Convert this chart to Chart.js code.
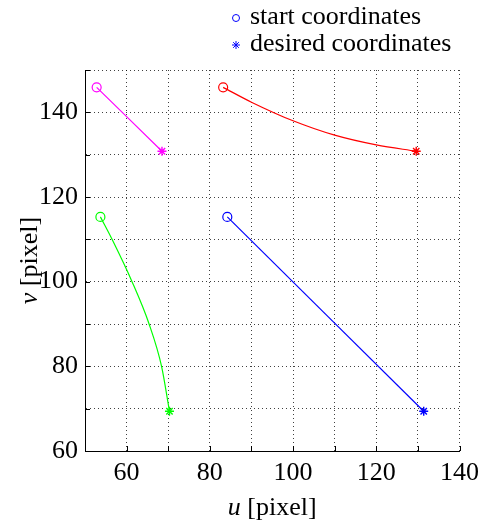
<!DOCTYPE html>
<html>
<head>
<meta charset="utf-8">
<script src="https://cdn.jsdelivr.net/npm/chart.js@4/dist/chart.umd.min.js"></script>
<style>
  html, body { margin: 0; padding: 0; background: #fff; }
  #wrap { width: 486px; height: 527px; }
  #probe { position: absolute; left: -999px; top: 0; font-family: "Liberation Serif"; }
</style>
</head>
<body>
<div id="wrap"><canvas id="c"></canvas></div>
<span id="probe">0<i>u</i></span>
<script>
// Image-plane trajectories of four features: start point, path, desired point
const startU   = [52.8, 83.2, 53.7, 84.2];
const startV   = [145.9, 145.9, 115.3, 115.3];
const desiredU = [68.5, 129.6, 70.3, 131.4];
const desiredV = [130.8, 130.8, 69.4, 69.4];

const magentaU = [52.8, 68.5];
const magentaV = [145.9, 130.8];
const redU     = [83.2, 90, 100, 110, 120, 129.6];
const redV     = [145.9, 142.4, 138.0, 134.6, 132.3, 130.8];
const greenU   = [53.7, 56.5, 61.3, 65.4, 68.4, 70.3];
const greenV   = [115.3, 110, 100, 90, 80, 69.4];
const blueU    = [84.2, 131.4];
const blueV    = [115.3, 69.4];

const pathColors = ['#ff00ff', '#ff0000', '#00ff00', '#0000ff'];

const uTicks = [60, 80, 100, 120, 140];
const vTicks = [60, 80, 100, 120, 140];
const legendLabels = ['start coordinates', 'desired coordinates'];

const FONT = "'Liberation Serif', serif";
const FS = 26;

const toPts = (us, vs) => us.map((u, i) => ({ x: u, y: vs[i] }));

function pathSet(us, vs, color) {
  return {
    data: toPts(us, vs),
    showLine: true,
    borderColor: color,
    borderWidth: 1.2,
    pointRadius: 0,
    pointHoverRadius: 0,
    cubicInterpolationMode: 'monotone',
    fill: false
  };
}

// Axis titles, inward ticks and the legend
const decor = {
  id: 'decor',
  afterDraw(chart) {
    const { ctx, chartArea: a, scales } = chart;
    ctx.save();
    ctx.strokeStyle = '#000';
    ctx.lineWidth = 1;
    ctx.beginPath();
    for (let u = 50; u <= 140; u += 10) {
      const px = Math.round(scales.x.getPixelForValue(u)) + 0.5;
      ctx.moveTo(px, a.bottom); ctx.lineTo(px, a.bottom - 5);
    }
    for (let v = 60; v <= 150; v += 10) {
      const py = Math.round(scales.y.getPixelForValue(v)) + 0.5;
      ctx.moveTo(a.left, py); ctx.lineTo(a.left + 5, py);
    }
    ctx.stroke();

    ctx.fillStyle = '#000';
    ctx.textBaseline = 'middle';

    const drawTitle = (sym, rest, cx, cy) => {
      ctx.font = 'italic ' + FS + 'px ' + FONT;
      const w1 = ctx.measureText(sym).width;
      ctx.font = FS + 'px ' + FONT;
      const w2 = ctx.measureText(rest).width;
      const x = cx - (w1 + w2) / 2;
      ctx.textAlign = 'left';
      ctx.font = 'italic ' + FS + 'px ' + FONT;
      ctx.fillText(sym, x, cy);
      ctx.font = FS + 'px ' + FONT;
      ctx.fillText(rest, x + w1, cy);
    };
    drawTitle('u', ' [pixel]', (a.left + a.right) / 2, 508);
    ctx.save();
    ctx.translate(30, (a.top + a.bottom) / 2);
    ctx.rotate(-Math.PI / 2);
    drawTitle('v', ' [pixel]', 0, 0);
    ctx.restore();

    const lx = 236, ly = [17, 44];
    ctx.font = FS + 'px ' + FONT;
    ctx.textAlign = 'left';
    legendLabels.forEach((txt, i) => {
      ctx.fillStyle = '#000';
      ctx.fillText(txt, 250, ly[i]);
    });
    ctx.strokeStyle = '#0000ff';
    ctx.lineWidth = 1;
    ctx.beginPath();
    ctx.arc(lx, ly[0] + 1, 3.5, 0, Math.PI * 2);
    ctx.stroke();
    ctx.beginPath();
    const r = 4;
    for (let k = 0; k < 4; k++) {
      const ang = k * Math.PI / 4;
      ctx.moveTo(lx + r * Math.cos(ang), ly[1] + 1 + r * Math.sin(ang));
      ctx.lineTo(lx - r * Math.cos(ang), ly[1] + 1 - r * Math.sin(ang));
    }
    ctx.stroke();
    ctx.restore();
  }
};

const gridColor = (min) => (c) =>
  (c.tick && c.tick.value === min) ? 'rgba(0,0,0,0)' : 'rgba(0,0,0,0.75)';

function build() {
  new Chart(document.getElementById('c'), {
    type: 'scatter',
    data: {
      datasets: [
        pathSet(magentaU, magentaV, pathColors[0]),
        pathSet(redU, redV, pathColors[1]),
        pathSet(greenU, greenV, pathColors[2]),
        pathSet(blueU, blueV, pathColors[3]),
        {
          data: toPts(startU, startV),
          pointStyle: 'circle',
          pointRadius: 4.5,
          pointBorderWidth: 1.2,
          pointBorderColor: pathColors,
          pointBackgroundColor: 'rgba(0,0,0,0)'
        },
        {
          data: toPts(desiredU, desiredV),
          pointStyle: 'star',
          pointRadius: 4.5,
          pointBorderWidth: 1.4,
          pointBorderColor: pathColors,
          pointBackgroundColor: pathColors
        }
      ]
    },
    options: {
      responsive: true,
      maintainAspectRatio: false,
      animation: false,
      events: [],
      layout: { padding: { top: 70, right: 21, bottom: 0, left: 0 } },
      plugins: { legend: { display: false }, tooltip: { enabled: false } },
      scales: {
        x: {
          type: 'linear',
          min: 50, max: 140,
          afterFit: (s) => { s.height = 76; },
          ticks: {
            stepSize: 10,
            padding: 7,
            color: '#000',
            font: { family: FONT, size: FS },
            maxRotation: 0,
            autoSkip: false,
            callback: (v) => uTicks.includes(v) ? String(v) : ''
          },
          grid: { color: gridColor(50), lineWidth: 1, drawTicks: false },
          border: { display: true, color: '#000', width: 1, dash: [1, 3] }
        },
        y: {
          type: 'linear',
          min: 60, max: 150,
          afterFit: (s) => { s.width = 85; },
          ticks: {
            stepSize: 10,
            padding: 7,
            color: '#000',
            font: { family: FONT, size: FS },
            autoSkip: false,
            callback: (v) => vTicks.includes(v) ? String(v) : ''
          },
          grid: { color: gridColor(60), lineWidth: 1, drawTicks: false },
          border: { display: true, color: '#000', width: 1, dash: [1, 3] }
        }
      }
    },
    plugins: [decor]
  });
}

if (document.fonts && document.fonts.load) {
  Promise.all([
    document.fonts.load(FS + "px 'Liberation Serif'"),
    document.fonts.load('italic ' + FS + "px 'Liberation Serif'")
  ]).then(build, build);
} else {
  build();
}
</script>
</body>
</html>
